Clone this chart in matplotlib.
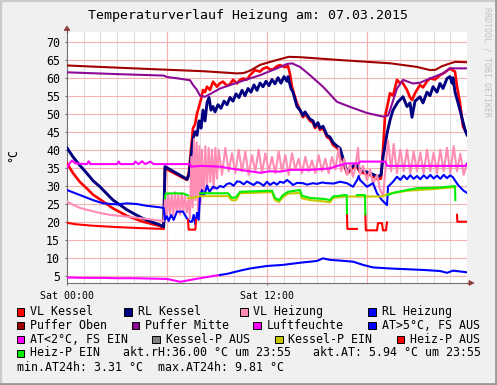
import numpy as np
import matplotlib
matplotlib.use("Agg")
import matplotlib.pyplot as plt
from matplotlib.patches import Rectangle, Polygon
from matplotlib.lines import Line2D

# ---------------- data (hour of day, value) ----------------
vl_kessel = [(0, 36.2), (0.36, 33.5), (0.78, 31.0), (1.2, 29.2), (1.56, 27.5), (1.98, 26.2), (2.76, 23.7),
             (3.6, 21.6), (4.56, 20.0),
             (5.58, 18.8), (5.8, 18.3), (5.88, 34.8), (7.2, 31.6), (7.32, 34), (7.44, 40), (7.56, 46), (7.68, 47),
             (7.8, 50), (7.92, 52), (8.04, 54), (8.16, 56.6), (8.28, 56), (8.4, 57.5), (8.58, 56.6), (8.76, 58.9),
             (9.0, 57.5), (9.18, 58.5), (9.36, 58.9), (9.6, 57.8), (9.78, 58.2), (9.96, 59.4), (10.2, 58.4),
             (10.38, 59.4), (10.56, 59.8), (10.8, 59.5), (10.98, 60.7), (11.28, 62.1), (11.58, 61.7), (11.76, 62.5),
             (12.0, 62.9), (12.18, 62.3), (12.36, 62.3), (12.6, 63.2), (12.78, 63.5), (13.08, 62.9), (13.26, 63.2),
             (13.38, 61), (13.5, 57.5), (13.62, 55.5), (13.8, 52.9), (13.98, 51), (14.16, 49), (14.28, 50),
             (14.58, 48), (14.76, 47.5), (14.88, 46), (15.06, 47), (15.18, 45.5), (15.36, 46), (15.6, 43.5),
             (15.78, 43), (15.96, 41.3), (16.2, 40.5), (16.38, 39.5), (16.8, 33.3), (17.16, 35), (17.4, 35.2),
             (17.58, 33.8), (18.18, 33), (18.66, 31.8), (18.84, 32), (18.96, 40), (19.08, 49.2), (19.26, 53),
             (19.38, 55.7), (19.56, 55), (19.8, 59.4), (19.98, 58.5), (20.1, 58.9), (20.4, 56.6), (20.58, 54.5),
             (20.7, 53.8), (20.88, 55.7), (21.18, 58), (21.36, 57.3), (21.6, 59), (21.78, 59.8), (22.08, 59.5),
             (22.38, 60.7), (22.68, 61.5), (22.98, 62.6), (23.16, 62), (23.28, 61.7), (23.4, 57.6), (23.58, 53),
             (23.76, 46.4), (24.0, 44.5)]

rl_kessel = [(0, 40.5), (0.36, 38.0), (0.78, 35.6), (1.2, 33.4), (1.56, 31.4), (1.98, 29.7), (2.76, 26.0),
             (3.2, 24.6), (3.6, 23.3), (4.1, 22.0), (4.56, 20.9), (5.1, 19.9),
             (5.58, 19.1), (5.8, 18.5), (5.88, 35.3), (7.2, 31.8), (7.32, 33), (7.44, 38), (7.56, 43), (7.68, 45),
             (7.8, 44), (7.92, 48), (8.04, 46), (8.16, 51), (8.28, 48), (8.4, 53), (8.52, 54.5), (8.64, 51),
             (8.76, 52), (8.88, 50.5), (9.06, 52.5), (9.24, 51.5), (9.42, 53.5), (9.6, 52.5), (9.78, 54.5),
             (9.96, 53.5), (10.14, 55.5), (10.32, 54.5), (10.5, 56.5), (10.68, 55), (10.86, 57), (11.04, 56),
             (11.22, 58), (11.4, 56.5), (11.58, 58.5), (11.76, 57.5), (11.94, 59), (12.12, 57.8), (12.3, 59.5),
             (12.48, 58.3), (12.66, 60), (12.84, 58.5), (13.02, 60.3), (13.2, 59), (13.26, 60.3), (13.44, 57),
             (13.56, 56), (13.8, 52), (13.98, 51), (14.16, 49.5), (14.28, 50.5), (14.58, 48.5), (14.76, 48),
             (14.88, 46.5), (15.06, 47.5), (15.18, 46), (15.36, 46.5), (15.6, 44), (15.78, 43.5), (15.96, 42),
             (16.2, 41), (16.38, 40.4), (16.8, 33.9), (17.16, 35.5), (17.4, 35.7), (17.58, 34.4), (18.18, 33.5),
             (18.66, 32.5), (18.84, 33), (18.96, 38), (19.08, 41), (19.2, 44.5), (19.38, 48.2), (19.56, 51),
             (19.86, 53.3), (20.16, 54.7), (20.4, 52), (20.58, 53), (20.7, 49), (20.88, 53.5), (21.18, 54.7),
             (21.36, 53), (21.6, 56), (21.78, 55), (21.96, 57.5), (22.2, 56), (22.38, 58.4), (22.56, 57),
             (22.8, 59.8), (22.98, 60.3), (23.1, 58.5), (23.16, 60.0), (23.28, 56.1), (23.58, 51), (23.88, 45.5),
             (24.0, 44.1)]

vl_heizung = [(0, 25.6), (0.4, 24.6), (0.8, 23.8), (1.2, 23.3), (1.9, 22.5), (2.58, 21.9), (3.6, 21.4),
              (4.56, 20.9), (5.58, 20.3),
              (5.8, 20.2), (5.9, 27), (6.0, 21.5), (6.08, 28), (6.18, 22), (6.28, 27.5), (6.38, 21.8), (6.48, 28.2),
              (6.58, 22.5), (6.68, 27.6), (6.78, 22), (6.88, 28), (6.98, 23), (7.08, 27.5), (7.18, 22.5),
              (7.28, 26), (7.38, 21), (7.46, 38), (7.54, 24), (7.62, 43), (7.7, 26), (7.78, 42), (7.86, 23),
              (7.94, 41), (8.02, 25), (8.1, 40), (8.2, 27), (8.3, 41), (8.4, 29), (8.5, 40.5), (8.6, 31),
              (8.7, 40), (8.8, 29), (8.9, 40.5), (9.0, 32), (9.1, 40), (9.3, 33), (9.5, 40.5), (9.7, 34),
              (9.9, 39), (10.1, 33.5), (10.3, 40), (10.5, 34), (10.7, 39.5), (10.9, 33), (11.1, 38.5), (11.3, 34),
              (11.5, 40), (11.7, 33.5), (11.9, 39), (12.1, 34), (12.3, 38), (12.5, 33.5), (12.7, 39.5), (12.9, 34),
              (13.1, 38.5), (13.3, 33), (13.5, 39), (13.7, 34.5), (13.9, 37.5), (14.1, 33.5), (14.3, 38), (14.5, 34),
              (14.7, 37), (14.9, 33.5), (15.1, 38.5), (15.3, 34), (15.5, 37.5), (15.7, 33.5), (15.9, 38),
              (16.1, 34.5), (16.3, 40.5), (16.45, 34), (16.62, 37.5), (16.8, 33), (16.98, 36), (17.16, 32.5),
              (17.3, 35), (17.46, 40.5), (17.58, 33), (17.76, 35.5), (18.0, 31.5), (18.18, 34.5), (18.36, 30.5),
              (18.6, 33), (18.78, 29), (18.96, 27), (19.08, 33), (19.26, 42.7), (19.45, 34), (19.6, 41.6),
              (19.8, 33.5), (20.0, 40), (20.2, 34), (20.4, 40), (20.6, 33.5), (20.8, 39.5), (21.0, 34),
              (21.2, 39.2), (21.4, 33.5), (21.6, 40), (21.8, 34), (22.0, 39.2), (22.2, 33.5), (22.4, 40),
              (22.6, 34), (22.8, 40.5), (23.0, 33.5), (23.2, 41), (23.4, 34), (23.6, 38.9), (23.8, 33), (24.0, 36)]

rl_heizung = [(0, 28.8), (0.78, 27.4), (1.56, 26.0), (2.16, 25.1), (3.0, 24.8), (3.6, 25.1), (4.2, 24.9),
              (4.8, 24.4), (5.58, 24.0), (5.8, 23.8), (5.88, 20.5), (6.0, 21.5), (6.1, 20.2), (6.25, 21.9),
              (6.4, 20.5), (6.6, 22.8), (6.96, 22.8), (7.2, 20.9), (7.38, 20.0), (7.5, 20.0), (7.6, 21.9),
              (7.7, 19.3), (7.8, 22.5), (7.9, 20.5), (7.98, 27.0), (8.1, 28.8), (8.2, 27.2), (8.28, 28.0),
              (8.4, 30.0), (8.55, 28.3), (8.76, 29.7), (9.0, 29.2), (9.18, 29.9), (9.4, 29.6), (9.6, 30.5),
              (9.78, 30.7), (10.0, 30.0), (10.2, 31.2), (10.38, 31.1), (10.6, 30.4), (10.8, 31.2), (10.98, 30.7),
              (11.2, 30.2), (11.4, 31.0), (11.58, 30.7), (11.8, 30.0), (12.0, 31.1), (12.18, 30.2), (12.4, 30.9),
              (12.6, 30.3), (12.78, 31.1), (13.0, 30.8), (13.2, 31.6), (13.4, 30.9), (13.56, 30.2), (13.8, 30.8),
              (14.16, 30.7), (14.4, 30.3), (14.76, 30.7), (15.0, 30.5), (15.3, 30.9), (15.6, 30.7), (16.0, 30.6),
              (16.38, 31.1), (16.8, 30.7), (17.16, 29.7), (17.4, 31.5), (17.5, 32.7), (17.58, 31.6), (18.0, 29.7),
              (18.36, 30.7), (18.6, 27.9), (18.9, 26.0), (19.2, 24.6), (19.26, 29.7), (19.56, 31.1), (19.8, 32.5),
              (20.0, 31.6), (20.2, 32.8), (20.4, 31.8), (20.6, 32.9), (20.8, 31.9), (21.0, 32.7), (21.2, 31.8),
              (21.4, 32.9), (21.6, 32.0), (21.8, 33.0), (22.0, 32.0), (22.2, 32.8), (22.4, 31.9), (22.6, 33.0),
              (22.8, 32.1), (23.0, 32.9), (23.16, 32.3), (23.46, 30.2), (23.8, 28.6), (24.0, 28.0)]

puffer_oben = [(0, 63.4), (4, 62.6), (8.2, 61.8), (10.2, 61.2), (10.6, 61.3), (11.0, 62.0), (11.6, 63.6),
               (12.5, 64.8), (13.3, 65.8), (14.0, 65.7), (16.4, 64.9), (19.4, 64.0), (21.0, 63.0), (21.8, 62.1),
               (22.1, 62.2), (22.5, 63.2), (23.0, 64.0), (23.3, 64.4), (24.0, 64.3)]

puffer_mitte = [(0, 61.5), (3, 61.0), (5.8, 60.6), (6.0, 60.2), (6.66, 59.8), (7.38, 59.3), (7.56, 58.0),
                (7.8, 56.6), (7.98, 55.0), (8.28, 54.7), (8.6, 55.5), (9.18, 57.0), (10.38, 58.9), (11.58, 60.7),
                (12.6, 62.6), (13.2, 63.8), (13.5, 64.0), (13.98, 63.0), (14.58, 60.7), (15.36, 57.5),
                (16.2, 53.3), (16.98, 51.9), (18.0, 50.2), (18.96, 49.2), (19.26, 49.5), (19.38, 51.0),
                (19.8, 57.0), (20.16, 59.4), (20.76, 58.4), (21.18, 58.6), (21.78, 59.8), (22.56, 61.2),
                (22.98, 62.6), (24.0, 62.6)]

luftfeuchte = [(0, 35.0), (0.15, 36.2), (0.3, 37.0), (0.5, 36.2), (1.2, 36.0), (1.3, 36.8), (1.4, 36.0),
               (3.0, 36.0), (3.1, 36.7), (3.2, 36.0), (4.0, 36.0), (4.1, 36.7), (4.3, 36.0), (4.5, 36.8),
               (4.7, 36.0), (5.0, 36.7), (5.2, 36.0), (7.38, 36.0), (7.45, 35.3), (8.0, 35.5), (9.18, 35.3),
               (9.78, 34.8), (10.38, 34.4), (11.58, 33.6), (12.18, 34.0), (12.78, 33.9), (13.38, 34.4),
               (14.58, 34.4), (15.78, 34.8), (16.08, 35.3), (16.38, 35.7), (16.8, 36.2), (17.5, 36.2),
               (17.58, 36.7), (19.1, 36.7), (19.2, 35.5), (23.9, 35.5), (24.0, 36.2)]

aussentemp = [(0, 4.5), (1, 4.4), (2, 4.4), (3, 4.3), (4, 4.3), (5, 4.2), (6, 4.1), (6.5, 3.6), (6.8, 3.31),
              (7.38, 3.8), (7.98, 4.3), (8.76, 4.9), (9.18, 5.2), (9.6, 5.5), (10.38, 6.4), (10.98, 7.0),
              (12.0, 7.7), (12.96, 8.0), (13.98, 8.6), (15.0, 9.1), (15.36, 9.81), (15.78, 9.4), (16.38, 9.2),
              (17.16, 8.9), (17.76, 8.0), (18.36, 7.3), (19.38, 7.0), (20.4, 6.8), (21.36, 6.6), (22.38, 6.3),
              (22.8, 5.8), (23.16, 6.4), (24.0, 5.94)]
at_color_switch_hour = 9.18

kesselp_ein = [(7.26, 26.6), (7.5, 26.6), (7.98, 27.1), (9.66, 27.1), (9.9, 25.9), (10.14, 26.0), (10.38, 27.9),
               (12.18, 28.2), (12.3, 28.2), (12.48, 26.0), (12.72, 25.5), (12.96, 26.8), (13.26, 27.8),
               (13.98, 28.0), (14.1, 26.5), (14.58, 26.0), (15.48, 25.6), (15.78, 25.4), (15.96, 26.6),
               (16.68, 27.0), (18.9, 27.0), (19.26, 27.7), (20.4, 28.6), (21.78, 29.0), (23.28, 29.6)]

heizp_aus = [
    [(0, 19.7), (0.5, 19.3), (1.5, 18.9), (3.0, 18.5), (4.5, 18.2), (5.8, 18.0)],
    [(7.26, 20.5), (7.3, 17.8), (7.7, 17.8), (7.75, 20.5)],
    [(16.8, 22.3), (16.82, 18.0), (17.4, 18.0)],
    [(17.9, 22.0), (17.93, 17.6), (18.6, 17.6), (18.66, 19.6), (18.9, 19.6), (18.96, 17.6), (19.14, 17.6), (19.2, 19.8)],
    [(23.4, 21.9), (23.42, 20.0), (24.0, 20.0)],
]

heizp_ein = [
    [(5.88, 26.5), (5.92, 27.8), (6.5, 27.9), (7.0, 27.8), (7.26, 27.3)],
    [(7.98, 27.9), (9.66, 27.9), (9.9, 26.6), (10.14, 26.8), (10.38, 28.3), (12.18, 28.6), (12.3, 28.6),
     (12.48, 26.6), (12.72, 26.0), (12.96, 27.4), (13.26, 28.3), (13.98, 28.8), (14.1, 27.2), (14.58, 26.6),
     (15.48, 26.3), (15.78, 26.0), (15.96, 27.0), (16.68, 27.4), (16.78, 27.4), (16.8, 22.3)],
    [(17.4, 27.4), (17.88, 27.4), (17.9, 22.0)],
    [(19.26, 27.4), (19.56, 28.0), (20.4, 28.8), (21.0, 29.3), (21.78, 29.4), (22.38, 29.5), (23.28, 29.9), (23.3, 26.0)],
]

y_ticks = [5, 10, 15, 20, 25, 30, 35, 40, 45, 50, 55, 60, 65, 70]
x_tick_hours = [0, 12]
x_tick_labels = ["Sat 00:00", "Sat 12:00"]

title = "Temperaturverlauf Heizung am: 07.03.2015"
legend_rows = [
    [("VL Kessel", "#ff0000", 16.7), ("RL Kessel", "#000080", 124.3), ("VL Heizung", "#ff8cb4", 240.0), ("RL Heizung", "#0000ff", 368.3)],
    [("Puffer Oben", "#a00000", 16.7), ("Puffer Mitte", "#8b0a96", 131.7), ("Luftfeuchte", "#ff00ff", 253.3), ("AT>5°C, FS AUS", "#0000ff", 368.3)],
    [("AT<2°C, FS EIN", "#ff00ff", 16.7), ("Kessel-P AUS", "#808080", 152.3), ("Kessel-P EIN", "#c8c800", 275.0), ("Heiz-P AUS", "#ff0000", 396.7)],
    [("Heiz-P EIN", "#00ee00", 16.7)],
]
info_texts = [("akt.rH:36.00 °C um 23:55", 122.7, 353.0), ("akt.AT: 5.94 °C um 23:55", 312.7, 353.0),
              ("min.AT24h: 3.31 °C", 16.7, 367.3), ("max.AT24h: 9.81 °C", 158.3, 367.3)]

# ---------------- figure ----------------
W, H = 497, 385
MONO = "DejaVu Sans Mono"
fig = plt.figure(figsize=(W / 100, H / 100), dpi=100, facecolor="#f0f0f0")


def fx(px):
    return px / W


def fy(py):
    return 1 - py / H


ax = fig.add_axes([fx(67), fy(283), 400 / W, 251 / H])
ax.set_facecolor("white")
ax.set_xlim(0, 24)
ax.set_ylim(2.97, 72.7)

# grid
for h in range(1, 24):
    if h % 6 == 0:
        ax.axvline(h, color="#f3b3b3", lw=0.8, zorder=0.5)
    else:
        ax.axvline(h, color="#dedede", lw=0.8, zorder=0.4)
for v in y_ticks:
    ax.axhline(v, color="#f3b3b3", lw=0.8, zorder=0.5)


def xy(pairs):
    a = np.array(pairs, dtype=float)
    return a[:, 0], a[:, 1]


LW = 1.5
t, v = xy(vl_kessel); ax.plot(t, v, color="#ff0000", lw=1.9, zorder=3)
t, v = xy(rl_kessel); ax.plot(t, v, color="#000080", lw=2.1, zorder=3.1)
t, v = xy(vl_heizung); ax.plot(t, v, color="#ff8cb4", lw=LW, zorder=3.2)
t, v = xy(rl_heizung); ax.plot(t, v, color="#0000ff", lw=LW, zorder=3.3)
t, v = xy(puffer_oben); ax.plot(t, v, color="#a00000", lw=LW, zorder=3.4)
t, v = xy(puffer_mitte); ax.plot(t, v, color="#8b0a96", lw=LW, zorder=3.5)
t, v = xy(luftfeuchte); ax.plot(t, v, color="#ff00ff", lw=LW, zorder=3.6)
t, v = xy(aussentemp)
low = t <= at_color_switch_hour
high = t >= at_color_switch_hour
ax.plot(t[low], v[low], color="#ff00ff", lw=LW, zorder=3.7)
ax.plot(t[high], v[high], color="#0000ff", lw=LW, zorder=3.7)
t, v = xy(kesselp_ein); ax.plot(t, v, color="#c8c800", lw=LW, zorder=3.8)
for seg in heizp_aus:
    t, v = xy(seg); ax.plot(t, v, color="#ff0000", lw=LW, zorder=3.9)
for seg in heizp_ein:
    t, v = xy(seg); ax.plot(t, v, color="#00ee00", lw=LW, zorder=4.0)

# axes styling
for s in ["top", "right"]:
    ax.spines[s].set_visible(False)
for s in ["left", "bottom"]:
    ax.spines[s].set_color("#707070")
    ax.spines[s].set_linewidth(0.8)
ax.set_yticks(y_ticks)
ax.set_yticklabels([str(v) for v in y_ticks], family=MONO, fontsize=8.4)
ax.set_xticks(x_tick_hours)
ax.set_xticklabels(x_tick_labels, family=MONO, fontsize=7.1)
ax.tick_params(axis="y", length=1.5, width=0.8, color="#707070", pad=3.5)
ax.tick_params(axis="x", length=1.5, width=0.8, color="#707070", pad=4.0)

# axis extensions and arrows
axis_col = "#8b3a3a"
fig.add_artist(Line2D([fx(67), fx(67)], [fy(32), fy(29)], color=axis_col, lw=0.8))
fig.add_artist(Line2D([fx(467), fx(470)], [fy(283), fy(283)], color=axis_col, lw=0.8))
fig.add_artist(Polygon([(fx(64), fy(30.5)), (fx(70), fy(30.5)), (fx(67), fy(26))], closed=True,
                       facecolor=axis_col, edgecolor=axis_col, lw=0.5))
fig.add_artist(Polygon([(fx(469), fy(280.5)), (fx(469), fy(285.5)), (fx(474), fy(283))], closed=True,
                       facecolor=axis_col, edgecolor=axis_col, lw=0.5))

# frame shading
fig.add_artist(Line2D([0, 1], [fy(0.8), fy(0.8)], color="#cbcbcb", lw=1.6))
fig.add_artist(Line2D([fx(0.8), fx(0.8)], [0, 1], color="#cbcbcb", lw=1.6))
fig.add_artist(Line2D([0, 1], [fy(383.8), fy(383.8)], color="#999999", lw=2.0))
fig.add_artist(Line2D([fx(495.8), fx(495.8)], [0, 1], color="#999999", lw=2.0))

# texts
fig.text(0.5, fy(16), title, family=MONO, fontsize=9.5, ha="center", va="center")
fig.text(fx(13), fy(155), "°C", family=MONO, fontsize=8.4, rotation=90, ha="center", va="center")
fig.text(fx(487), fy(62), "RRDTOOL / TOBI OETIKER", family=MONO, fontsize=6, rotation=270,
         ha="center", va="center", color="#c0c0c0")

row_y = [311.6, 325.3, 339.3, 353.0]
for ry, row in zip(row_y, legend_rows):
    for label, col, sx in row:
        fig.add_artist(Rectangle((fx(sx), fy(ry + 4)), 7.5 / W, 7.5 / H, transform=fig.transFigure,
                                 facecolor=col, edgecolor="black", lw=0.7))
        fig.text(fx(sx + 13.5), fy(ry), label, family=MONO, fontsize=8.4, ha="left", va="center")
for txt, x0, y0 in info_texts:
    fig.text(fx(x0), fy(y0), txt, family=MONO, fontsize=8.4, ha="left", va="center")

fig.savefig("out.png", dpi=100, facecolor=fig.get_facecolor())
